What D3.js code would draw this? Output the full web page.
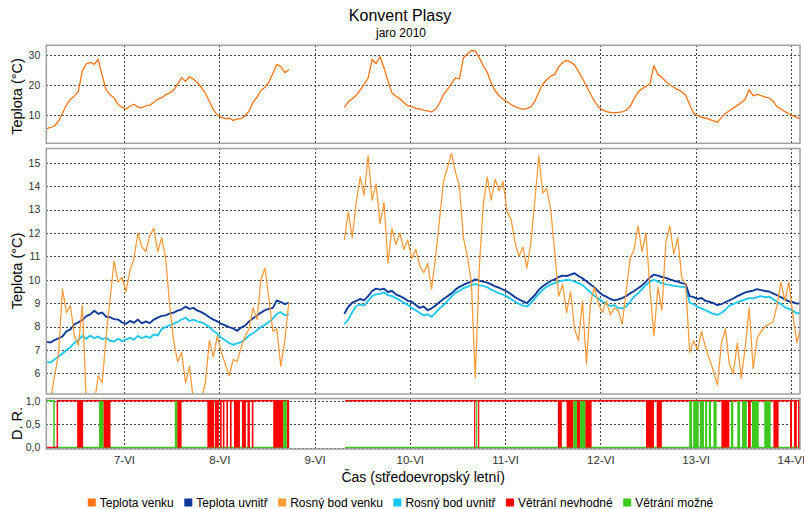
<!DOCTYPE html>
<html>
<head>
<meta charset="utf-8">
<script src="https://cdn.jsdelivr.net/npm/d3@7"></script>
<style>
  body { margin: 0; background: #fff; }
  text { font-family: "Liberation Sans", Arial, sans-serif; }
  .grid line { stroke: #444; stroke-dasharray: 2,2; shape-rendering: crispEdges; }
  .grid .domain { display: none; }
  .ticklab text { fill: #333; }
</style>
</head>
<body>
<svg id="chart" width="804" height="509"></svg>
<script>

const titleText = 'Konvent Plasy';
const subtitleText = 'jaro 2010';
const xTitle = 'Čas (středoevropský letní)';
const seriesNames = ['Teplota venku', 'Teplota uvnitř', 'Rosný bod venku', 'Rosný bod uvnitř', 'Větrání nevhodné', 'Větrání možné'];
const seriesColors = ['#ff7410', '#0f3a98', '#ff9a38', '#18c6f6', '#ff0000', '#3cc81c'];

// hourly readings, first one 6-VI 04:30, null = no record
const dayOrigin = new Date(2010, 5, 6);
const firstHour = 4.5;

const outsideTemp = [
  5.4, 5.8, 6.3, 7.9, 10.6, 13.4, 15.2, 16.4, 18.0, 24.8, 27.1, 27.6, 27.0, 28.6, 23.2, 18.4, 16.8, 15.7, 13.5, 12.6,
  12.0, 13.0, 13.6, 12.6, 12.4, 13.1, 13.3, 14.2, 15.3, 15.8, 16.8, 17.4, 18.4, 20.3, 22.5, 21.3, 22.8, 22.0, 20.8, 19.2, 17.3, 14.6, 11.8, 10.0,
  9.2, 8.8, 8.9, 8.2, 8.6, 8.8, 9.6, 11.4, 14.2, 16.0, 18.2, 19.3, 21.0, 24.0, 27.0, 26.2, 24.2, 25.1, null, null, null, null, null, null,
  null, null, null, null, null, null, null, 12.5, 14.4, 15.4, 16.6, 18.4, 20.2, 22.4, 28.6, 27.2, 29.5, 25.8, 21.3, 17.4, 16.3, 15.4, 14.2, 13.1,
  12.8, 12.2, 12.0, 11.6, 11.4, 11.0, 11.9, 14.0, 16.9, 18.6, 20.6, 22.4, 22.1, 29.2, 30.4, 31.6, 31.5, 29.2, 26.5, 24.3, 20.6, 18.2, 16.4, 15.3,
  14.4, 13.5, 12.8, 12.3, 11.9, 12.2, 12.7, 14.6, 17.6, 20.3, 21.8, 23.0, 23.6, 26.1, 27.6, 28.3, 27.7, 26.8, 24.6, 22.2, 19.6, 17.1, 14.6, 12.8,
  11.7, 11.1, 10.9, 10.7, 10.9, 11.0, 11.6, 12.8, 15.5, 17.6, 18.8, 19.6, 20.4, 26.5, 23.6, 22.6, 21.2, 20.1, 19.3, 18.5, 17.8, 16.6, 13.4, 10.6,
  9.8, 9.2, 8.9, 8.5, 8.0, 7.6, 9.1, 10.5, 11.4, 12.3, 13.2, 14.1, 15.3, 18.5, 16.4, 16.9, 16.5, 16.0, 15.7, 14.6, 12.8, 12.0, 11.1, 10.4,
  9.8, 9.2, 8.6
];

const insideTemp = [
  7.35, 7.32, 7.42, 7.50, 7.58, 7.80, 7.88, 8.10, 8.18, 8.28, 8.45, 8.52, 8.68, 8.55, 8.60, 8.42, 8.40, 8.32, 8.30, 8.18,
  8.12, 8.24, 8.16, 8.30, 8.14, 8.22, 8.15, 8.30, 8.38, 8.46, 8.48, 8.56, 8.60, 8.68, 8.74, 8.85, 8.76, 8.80, 8.68, 8.62, 8.52, 8.40, 8.30, 8.22,
  8.12, 8.05, 7.98, 7.92, 7.82, 7.96, 8.04, 8.22, 8.36, 8.48, 8.60, 8.70, 8.76, 8.80, 9.12, 9.05, 8.96, 9.02, null, null, null, null, null, null,
  null, null, null, null, null, null, null, 8.55, 8.85, 9.02, 9.10, 9.18, 9.12, 9.30, 9.52, 9.62, 9.58, 9.62, 9.48, 9.52, 9.38, 9.30, 9.22, 9.10,
  9.06, 8.92, 8.80, 8.86, 8.70, 8.78, 8.90, 9.05, 9.18, 9.30, 9.42, 9.58, 9.70, 9.78, 9.86, 9.92, 10.02, 9.96, 9.92, 9.88, 9.80, 9.72, 9.66, 9.58,
  9.50, 9.38, 9.26, 9.16, 9.08, 9.00, 9.18, 9.34, 9.58, 9.72, 9.84, 9.95, 10.02, 10.12, 10.18, 10.16, 10.22, 10.28, 10.16, 10.06, 9.94, 9.80, 9.68, 9.50,
  9.36, 9.28, 9.18, 9.12, 9.16, 9.22, 9.30, 9.42, 9.52, 9.64, 9.76, 9.92, 10.10, 10.22, 10.18, 10.12, 10.08, 10.02, 9.96, 9.92, 9.86, 9.82, 9.30, 9.26,
  9.18, 9.22, 9.10, 9.06, 9.00, 8.92, 8.96, 9.04, 9.12, 9.20, 9.30, 9.38, 9.46, 9.50, 9.54, 9.60, 9.56, 9.52, 9.50, 9.42, 9.34, 9.26, 9.16, 9.08,
  9.04, 8.98, 9.00
];

const outsideDew = [
  4.6, 4.9, 5.9, 6.8, 9.6, 8.6, 8.9, 7.6, 7.2, 8.9, 4.8, 4.5, 4.7, 5.9, 5.6, 7.6, 9.2, 10.8, 9.9, 10.1,
  9.5, 10.4, 10.9, 12.0, 11.4, 11.2, 11.9, 12.2, 11.2, 11.8, 10.9, 8.9, 7.4, 6.5, 6.9, 5.6, 6.3, 4.8, 4.6, 4.9, 5.6, 7.4, 6.7, 7.6,
  6.9, 6.4, 5.9, 6.6, 6.5, 7.1, 7.6, 7.9, 8.8, 8.3, 10.0, 10.5, 9.2, 7.8, 7.9, 6.3, 7.4, 9.0, null, null, null, null, null, null,
  null, null, null, null, null, null, null, 11.7, 12.9, 11.8, 13.3, 14.4, 13.6, 15.3, 13.4, 14.1, 12.4, 13.3, 10.7, 12.2, 11.5, 12.0, 11.3, 11.7,
  10.9, 11.3, 10.6, 10.3, 10.7, 9.6, 11.0, 12.6, 14.2, 14.8, 15.4, 14.6, 14.0, 11.8, 11.0, 9.9, 5.8, 10.5, 13.2, 14.4, 13.4, 14.3, 13.8, 14.2,
  12.9, 12.6, 11.6, 11.0, 11.4, 10.5, 11.6, 13.4, 15.3, 13.7, 13.9, 13.0, 11.2, 9.3, 9.8, 8.6, 9.5, 7.9, 7.4, 9.1, 6.4, 9.0, 9.7, 9.0,
  8.6, 9.1, 8.5, 8.8, 8.7, 8.1, 9.5, 10.9, 11.3, 12.3, 11.2, 12.0, 9.6, 7.6, 9.7, 8.7, 11.6, 12.3, 11.1, 11.8, 10.1, 9.8, 6.9, 7.4,
  7.0, 7.8, 7.1, 6.6, 6.1, 5.5, 7.3, 7.9, 6.4, 6.0, 7.3, 5.8, 7.1, 8.8, 6.2, 7.5, 7.8, 8.0, 8.1, 8.2, 8.9, 9.9, 9.1, 9.9,
  8.5, 7.3, 8.0
];

const insideDew = [
  6.50, 6.46, 6.60, 6.72, 6.85, 7.00, 7.12, 7.30, 7.42, 7.60, 7.48, 7.62, 7.50, 7.58, 7.46, 7.52, 7.40, 7.36, 7.48, 7.38,
  7.45, 7.52, 7.44, 7.60, 7.50, 7.58, 7.52, 7.66, 7.62, 7.90, 7.98, 8.06, 8.12, 8.20, 8.30, 8.38, 8.24, 8.30, 8.22, 8.18, 8.10, 7.98, 7.82, 7.70,
  7.52, 7.42, 7.30, 7.22, 7.28, 7.34, 7.46, 7.62, 7.72, 7.84, 7.98, 8.08, 8.20, 8.34, 8.55, 8.62, 8.48, 8.52, null, null, null, null, null, null,
  null, null, null, null, null, null, null, 8.10, 8.30, 8.62, 8.88, 8.95, 8.90, 9.10, 9.30, 9.38, 9.40, 9.46, 9.34, 9.30, 9.22, 9.12, 9.02, 8.92,
  8.80, 8.70, 8.58, 8.48, 8.52, 8.42, 8.60, 8.78, 8.92, 9.10, 9.28, 9.45, 9.52, 9.64, 9.70, 9.78, 9.82, 9.76, 9.74, 9.68, 9.58, 9.50, 9.42, 9.36,
  9.28, 9.18, 9.06, 8.98, 8.90, 8.86, 9.02, 9.20, 9.40, 9.58, 9.70, 9.80, 9.86, 9.92, 9.96, 10.00, 9.98, 9.92, 9.86, 9.78, 9.62, 9.46, 9.32, 9.20,
  9.08, 8.98, 8.88, 8.92, 8.80, 8.78, 8.86, 9.06, 9.28, 9.42, 9.60, 9.78, 9.92, 10.00, 9.92, 9.86, 9.80, 9.78, 9.74, 9.72, 9.70, 9.68, 9.02, 8.96,
  8.84, 8.78, 8.70, 8.62, 8.54, 8.50, 8.58, 8.72, 8.90, 8.96, 9.04, 9.10, 9.16, 9.22, 9.20, 9.26, 9.30, 9.26, 9.28, 9.18, 9.06, 8.96, 8.82, 8.76,
  8.68, 8.56, 8.60
];

// D. R. (ventilation) state changes as [hour from 6-VI 00:00, value]; null = logger gap
const unsuitableSteps = [[4.4, 0], [7.2, 1], [65.6, 1], [65.6, null], [79.7, 1], [194.4, 1]];
const possibleSteps = [[4.4, 1], [6.35, 0], [65.6, 0], [65.6, null], [79.7, 0], [194.4, 0]];
// short periods where the state flickers, [from hour, to hour]
const unsuitableBursts = [
  [12.2, 13.7], [18.8, 20.6], [37.4, 38.5], [45.0, 46.7], [46.9, 47.9], [48.2, 48.6], [48.9, 49.3],
  [49.8, 50.2], [50.7, 51.1], [51.7, 53.2], [53.7, 54.7], [55.1, 55.7], [56.2, 56.6], [61.6, 64.1],
  [65.0, 65.6], [112.2, 112.5], [113.2, 113.5], [133.3, 134.3], [135.5, 137.2], [138.1, 138.9],
  [140.2, 141.8], [155.5, 157.5], [158.2, 159.5], [174.5, 176.5], [181.2, 181.9], [187.6, 188.9],
  [191.8, 192.3], [192.8, 193.5], [193.8, 194.3]
];
const possibleBursts = [
  [17.7, 18.8], [36.8, 37.4], [64.1, 65.0], [112.7, 113.0], [137.2, 138.1], [138.9, 140.2],
  [166.4, 167.1], [167.4, 168.8], [169.1, 170.1], [170.4, 170.9], [171.3, 171.9], [172.5, 173.3],
  [176.9, 177.5], [178.5, 179.2], [179.7, 180.9], [182.2, 183.9], [185.3, 186.9]
];

const tempTicks = [10, 20, 30];
const indoorTicks = [6, 7, 8, 9, 10, 11, 12, 13, 14, 15];
const drTicks = [0, 0.5, 1];

// ---------------------------------------------------------------

const svg = d3.select('#chart');
const at = h => new Date(dayOrigin.getTime() + h * 3600e3);
const x0 = 46.3, x1 = 800;
const x = d3.scaleTime().domain([at(4.42), at(194.3)]).range([x0, x1]);
const czech = d3.formatLocale({ decimal: ',', thousands: ' ', grouping: [3], currency: ['', ''] });

const toPoints = vals => vals.map((v, i) => ({ h: firstHour + i, v: v }));

function makePanel(id, top, bottom, domain, ticks, fmt, label, labelY) {
  const y = d3.scaleLinear().domain(domain).range([bottom, top]);
  const g = svg.append('g');

  g.append('clipPath').attr('id', id)
    .append('rect').attr('x', x0).attr('y', top).attr('width', x1 - x0).attr('height', bottom - top);

  g.append('g').attr('class', 'grid')
    .attr('transform', `translate(${x0},0)`)
    .call(d3.axisLeft(y).tickValues(ticks).tickSize(-(x1 - x0)).tickFormat(''));

  g.append('g').attr('class', 'grid')
    .attr('transform', `translate(0,${bottom})`)
    .call(d3.axisBottom(x).ticks(d3.timeDay.every(1)).tickSize(-(bottom - top)).tickFormat(''));

  const lab = g.append('g').attr('class', 'ticklab')
    .attr('transform', `translate(${x0},0)`)
    .call(d3.axisLeft(y).tickValues(ticks).tickSize(0).tickPadding(6).tickFormat(fmt));
  lab.select('.domain').remove();
  lab.selectAll('text').style('font-size', '10.5px');

  svg.append('text')
    .attr('transform', `translate(21.5,${labelY}) rotate(-90)`)
    .attr('text-anchor', 'middle')
    .style('font-size', '14.5px')
    .text(label);

  const data = g.append('g').attr('clip-path', `url(#${id})`);
  return { g, y, data, top, bottom };
}

const pTop = makePanel('clipTop', 45.3, 143.3, [0.5, 33.35], tempTicks, d => d, 'Teplota (°C)', 96.5);
const pMid = makePanel('clipMid', 148.5, 394, [5.12, 15.61], indoorTicks, d => d, 'Teplota (°C)', 271);
const pBot = makePanel('clipBot', 398.5, 449, [-0.03, 1.05], drTicks, czech.format('.1f'), 'D. R.', 423.5);

function drawLine(p, vals, color, width) {
  const line = d3.line()
    .defined(d => d.v != null)
    .x(d => x(at(d.h)))
    .y(d => p.y(d.v));
  p.data.append('path')
    .datum(toPoints(vals))
    .attr('d', line)
    .attr('fill', 'none')
    .attr('stroke', color)
    .attr('stroke-width', width)
    .attr('stroke-linejoin', 'round');
}

drawLine(pTop, outsideTemp, seriesColors[0], 1.3);
drawLine(pMid, insideDew, seriesColors[3], 1.8);
drawLine(pMid, insideTemp, seriesColors[1], 1.9);
drawLine(pMid, outsideDew, seriesColors[2], 1.25);

// ventilation panel
function drawSteps(steps, color) {
  const line = d3.line()
    .defined(d => d[1] != null)
    .curve(d3.curveStepAfter)
    .x(d => x(at(d[0])))
    .y(d => pBot.y(d[1]));
  pBot.data.append('path')
    .datum(steps)
    .attr('d', line)
    .attr('fill', 'none')
    .attr('stroke', color)
    .attr('stroke-width', 1.5);
}
drawSteps(possibleSteps, seriesColors[5]);
drawSteps(unsuitableSteps, seriesColors[4]);

function drawBursts(bursts, color) {
  pBot.data.selectAll(null)
    .data(bursts)
    .enter().append('rect')
    .attr('x', d => x(at(d[0])))
    .attr('width', d => Math.max(1.2, x(at(d[1])) - x(at(d[0]))))
    .attr('y', pBot.y(1))
    .attr('height', pBot.y(0) - pBot.y(1))
    .attr('fill', color);
}
drawBursts(unsuitableBursts, seriesColors[4]);
drawBursts(possibleBursts, seriesColors[5]);

// frames
[pTop, pMid, pBot].forEach(p => {
  svg.append('rect')
    .attr('x', x0).attr('y', p.top)
    .attr('width', x1 - x0).attr('height', p.bottom - p.top)
    .attr('fill', 'none')
    .attr('stroke', '#a0a0a0')
    .attr('stroke-width', 1.5);
});

// time axis labels
const xAxis = svg.append('g')
  .attr('class', 'ticklab')
  .attr('transform', `translate(0,${pBot.bottom})`)
  .call(d3.axisBottom(x).ticks(d3.timeDay.every(1)).tickSize(0).tickPadding(7)
    .tickFormat(d => `${d.getDate()}-VI`));
xAxis.select('.domain').remove();
xAxis.selectAll('text').style('font-size', '11.5px');

svg.append('text')
  .attr('x', (x0 + x1) / 2).attr('y', 481.5)
  .attr('text-anchor', 'middle')
  .style('font-size', '14px')
  .text(xTitle);

// titles
svg.append('text')
  .attr('x', 400).attr('y', 20.5)
  .attr('text-anchor', 'middle')
  .style('font-size', '16px')
  .text(titleText);
svg.append('text')
  .attr('x', 401).attr('y', 36.5)
  .attr('text-anchor', 'middle')
  .style('font-size', '12px')
  .text(subtitleText);

// legend
const legend = svg.append('g');
const items = legend.selectAll('g')
  .data(seriesNames)
  .enter().append('g');
items.append('rect')
  .attr('width', 8).attr('height', 8)
  .attr('y', 498.5)
  .attr('fill', (d, i) => seriesColors[i]);
items.append('text')
  .attr('x', 12).attr('y', 506.7)
  .style('font-size', '12px')
  .text(d => d);

let cursor = 0;
items.each(function () {
  const w = d3.select(this).select('text').node().getComputedTextLength();
  d3.select(this).attr('transform', `translate(${cursor},0)`);
  cursor += 12 + w + 10.5;
});
const legendWidth = cursor - 10.5;
legend.attr('transform', `translate(${400.5 - legendWidth / 2},0)`);

</script>
</body>
</html>
